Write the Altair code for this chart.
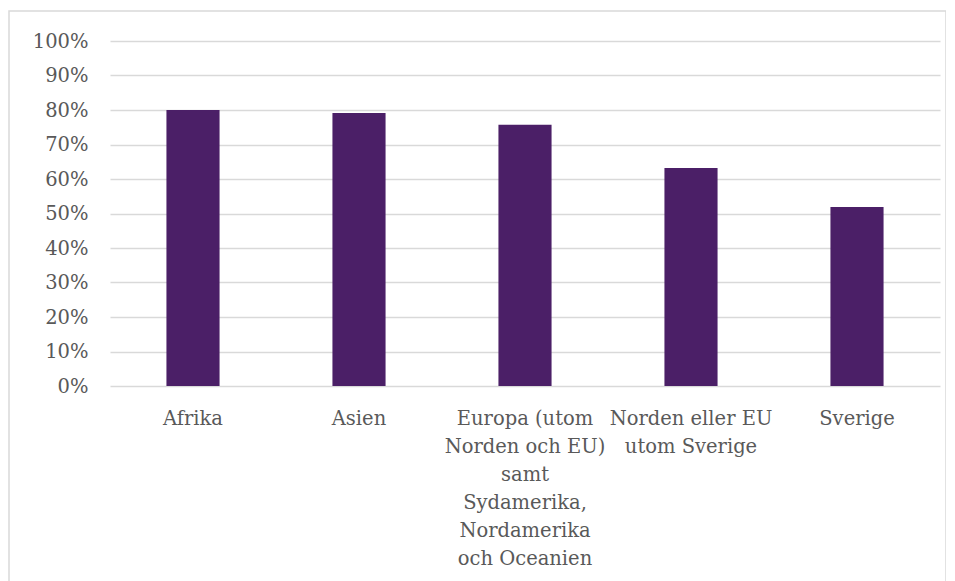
import altair as alt
import pandas as pd

categories = [
    "Afrika",
    "Asien",
    "Europa (utom Norden och EU) samt Sydamerika, Nordamerika och Oceanien",
    "Norden eller EU utom Sverige",
    "Sverige",
]
label_lines = [
    "Afrika",
    "Asien",
    "Europa (utom|Norden och EU)|samt|Sydamerika,|Nordamerika|och Oceanien",
    "Norden eller EU|utom Sverige",
    "Sverige",
]
values = [0.80, 0.791, 0.757, 0.632, 0.519]
y_ticks = [0, 0.1, 0.2, 0.3, 0.4, 0.5, 0.6, 0.7, 0.8, 0.9, 1.0]

df = pd.DataFrame({"kat": categories, "andel": values, "etikett": label_lines})

label_map = "{" + ",".join(
    f"{repr(c)}: {repr(l)}" for c, l in zip(categories, label_lines)
) + "}"

FONT = "DejaVu Serif"
GRAY_TXT = "#595959"
GRID = "#d9d9d9"

bars = alt.Chart(df).mark_bar(color="#4B1F67").encode(
    x=alt.X(
        "kat:N",
        sort=categories,
        title=None,
        scale=alt.Scale(paddingInner=0.68, paddingOuter=0.34),
        axis=alt.Axis(
            labelAngle=0,
            labelExpr=f"split({label_map}[datum.label], '|')",
            labelFont=FONT,
            labelFontSize=19.5,
            labelColor=GRAY_TXT,
            labelLineHeight=28,
            labelPadding=23,
            labelBaseline="top",
            labelLimit=0,
            labelOverlap=False,
            ticks=False,
            domain=False,
            grid=False,
        ),
    ),
    y=alt.Y(
        "andel:Q",
        title=None,
        scale=alt.Scale(domain=[0, 1], nice=False),
        axis=alt.Axis(
            values=y_ticks,
            format=".0%",
            labelFont=FONT,
            labelFontSize=19.5,
            labelColor=GRAY_TXT,
            labelPadding=22,
            ticks=False,
            domain=False,
            grid=True,
            gridColor=GRID,
            gridWidth=1.4,
        ),
    ),
)

frame = alt.Chart(pd.DataFrame({"f": [1]})).mark_rect(
    fill=None, stroke=GRID, strokeWidth=1.5, clip=False
).encode(
    x=alt.value(-101),
    x2=alt.value(836),
    y=alt.value(-30),
    y2=alt.value(700),
)

chart = alt.layer(frame, bars).properties(
    width=830,
    height=345,
    autosize=alt.AutoSizeParams(type="none"),
    padding={"left": 102, "top": 33, "right": 6, "bottom": 200},
).configure(
    background="white",
    view=alt.ViewConfig(stroke=None),
)

chart.save("out.html", embed_options={"renderer": "svg", "actions": False})
